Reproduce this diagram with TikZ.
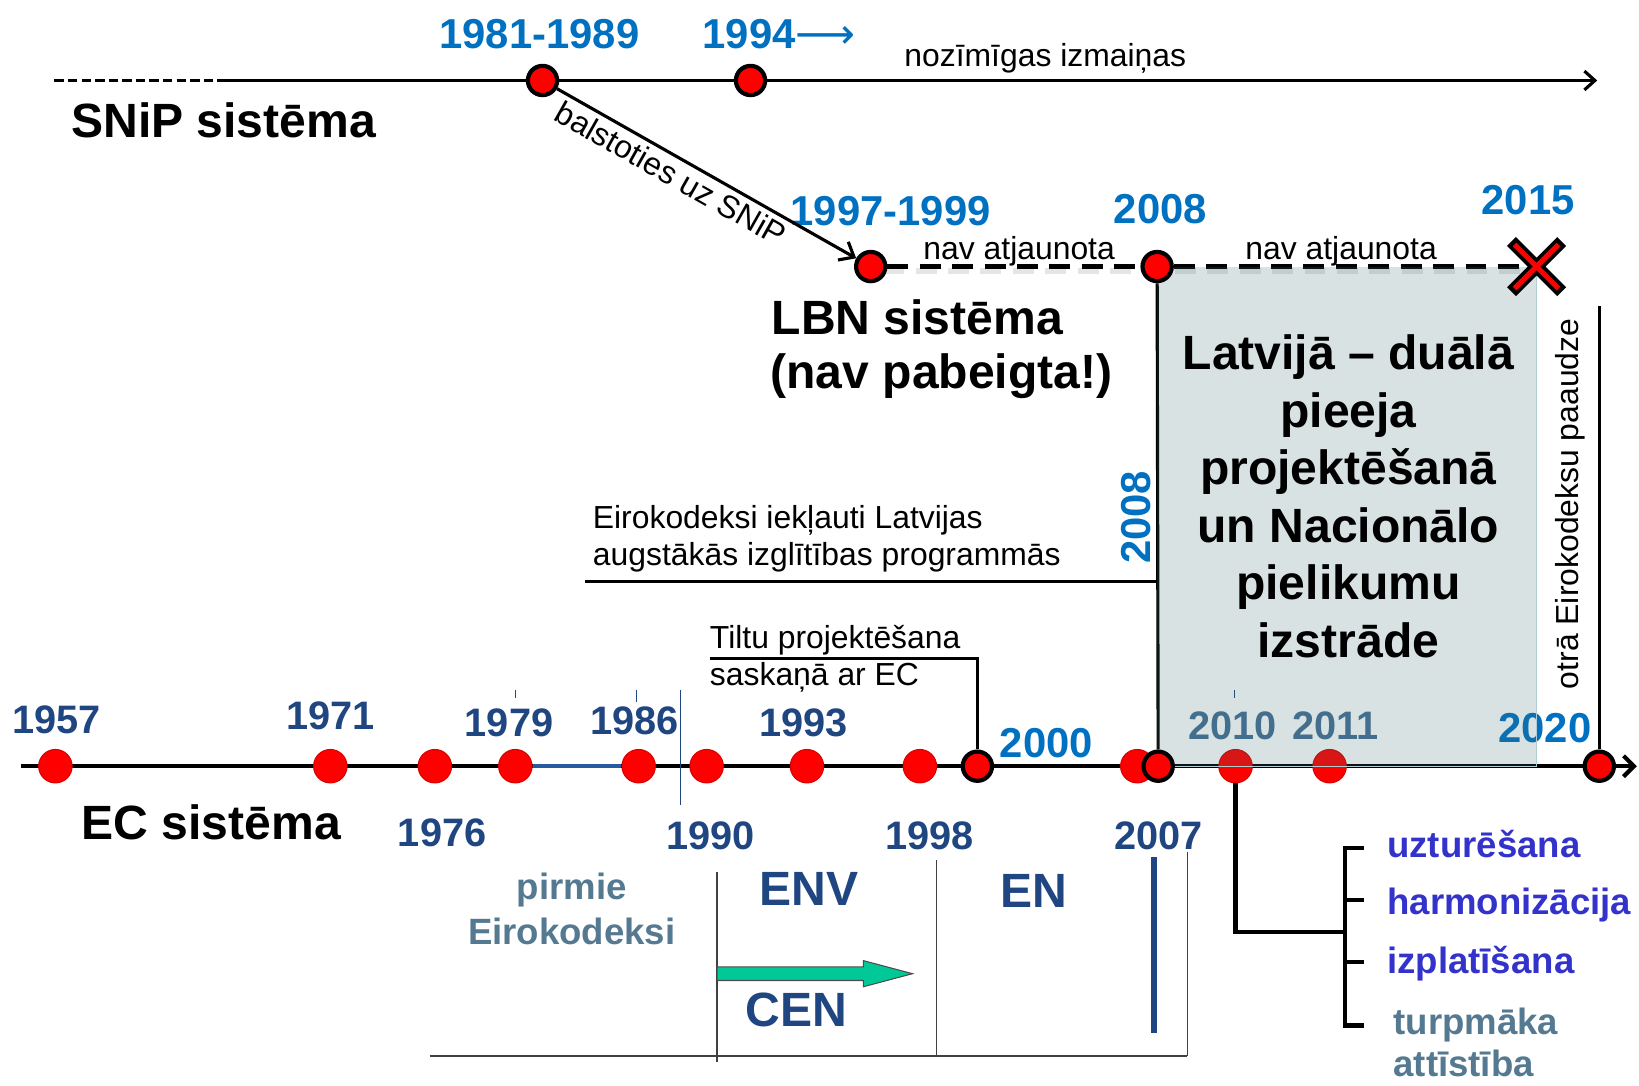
\documentclass[tikz,border=0pt]{standalone}
\usepackage{fontspec}
\setmainfont{Liberation Sans}
\newfontfamily\arrowfont{DejaVu Sans}
\usetikzlibrary{arrows.meta, backgrounds, positioning}

\definecolor{yearblue}{RGB}{0,112,192}
\definecolor{ecblue}{RGB}{32,70,130}
\definecolor{fadeblue}{RGB}{70,110,150}
\definecolor{greyblue}{RGB}{84,121,145}
\definecolor{violetblue}{RGB}{51,51,204}
\definecolor{boxshade}{RGB}{60,110,110}
\definecolor{boxedge}{RGB}{175,205,210}
\definecolor{arrowgreen}{RGB}{0,200,150}
\definecolor{segblue}{RGB}{40,90,160}

\begin{document}
\begin{tikzpicture}[x=1pt, y=-1pt]

  \tikzstyle{year} = [font=\fontsize{40}{44}\selectfont\bfseries, text=yearblue, inner sep=0pt, anchor=base];
  \tikzstyle{ecyear} = [font=\fontsize{38}{42}\selectfont\bfseries, text=ecblue, inner sep=0pt, anchor=base];
  \tikzstyle{heading} = [font=\fontsize{46}{52}\selectfont\bfseries, inner sep=0pt, anchor=base west];
  \tikzstyle{note} = [font=\fontsize{30.5}{36}\selectfont, inner sep=0pt, anchor=base west];
  \tikzstyle{task} = [font=\fontsize{35}{42}\selectfont\bfseries, text=violetblue, inner sep=0pt, anchor=base west];
  \tikzstyle{event} = [circle, fill=red, draw=black, line width=4pt, minimum size=28pt, inner sep=0pt];
  \tikzstyle{ecevent} = [circle, fill=red, draw=red!85!black, line width=1pt, minimum size=32pt, inner sep=0pt];
  \tikzstyle{tableline} = [black!75, line width=1.5pt];

  \useasboundingbox (0,0) rectangle (1568,1038);

  % EC timeline
  \node [ecevent] (n1957) at (53,733)   {};
  \node [ecevent] (n1971) at (316,733)  {};
  \node [ecevent] (n1976) at (416,733)  {};
  \node [ecevent] (n1979) at (493,733)  {};
  \node [ecevent] (n1986) at (611,733)  {};
  \node [ecevent] (n1990) at (676,733)  {};
  \node [ecevent] (n1993) at (772,733)  {};
  \node [ecevent] (n1998) at (880,733)  {};
  \node [ecevent] (n2007) at (1088,733) {};
  \node [ecevent] (n2010) at (1182,733) {};
  \node [ecevent] (n2011) at (1272,733) {};

  \node [ecyear] (l1957) at (54,702)   {1957};
  \node [ecyear] (l1971) at (316,698)  {1971};
  \node [ecyear] (l1979) at (487,705)  {1979};
  \node [ecyear] (l1986) at (607,703)  {1986};
  \node [ecyear] (l1993) at (769,705)  {1993};
  \node [ecyear] (l1976) at (423,810)  {1976};
  \node [ecyear] (l1990) at (680,813)  {1990};
  \node [ecyear] (l1998) at (889,813)  {1998};
  \node [ecyear] (l2007) at (1108,813) {2007};
  \node [ecyear, text=fadeblue] (l2010) at (1179,707) {2010};
  \node [ecyear, text=fadeblue] (l2011) at (1278,707) {2011};
  \node [year] (l2000) at (1001,725) {2000};
  \node [year] (l2020) at (1478,710) {2020};

  \node [heading] (ec) at (78,803) {EC sistēma};

  % dual approach box
  \fill [boxshade, fill opacity=0.2] (1107,255) rectangle (1470,733);
  \draw [boxedge, line width=1pt] (1470,262) -- (1470,733) -- (1112,733);
  \node [font=\fontsize{46}{55}\selectfont\bfseries, align=center, inner sep=0pt] (dual) at (1290,475)
    {Latvijā – duālā\\pieeja\\projektēšanā\\un Nacionālo\\pielikumu\\izstrāde};

  % SNiP timeline
  \node [event] (n1981) at (519,77) {};
  \node [event] (n1994) at (718,77) {};
  \node [year] (l1981) at (516,46) {1981-1989};
  \node [year, anchor=base west] (l1994) at (672,46) {1994{\arrowfont\mdseries ⟶}};
  \node [note] (changes) at (865,64) {nozīmīgas izmaiņas};
  \node [heading] (snip) at (68,132) {SNiP sistēma};

  \coordinate (snipdash)  at (52,77);
  \coordinate (snipsolid) at (212,77);
  \coordinate (snipend)   at (1528,77);

  % LBN timeline
  \node [event] (n1997) at (833,255) {};
  \node [event] (n2008) at (1107,255) {};
  \coordinate (xmark) at (1470,255);
  \node [year] (l1997) at (852,216) {1997-1999};
  \node [year] (l2008) at (1110,214) {2008};
  \node [year] (l2015) at (1462,205) {2015};
  \node [note, anchor=base] (stale1) at (975,248)  {nav atjaunota};
  \node [note, anchor=base] (stale2) at (1283,248) {nav atjaunota};
  \node [heading] (lbn) at (738,320) {LBN sistēma};
  \node [heading] (lbnnote) at (737,372) {(nav pabeigta!)};

  \draw [line width=12pt, shift={(xmark)}] (-24,-24) -- (24,24) (-24,24) -- (24,-24);
  \draw [red, line width=5pt, shift={(xmark)}] (-21,-21) -- (21,21) (-21,21) -- (21,-21);

  % EC events with outline
  \node [event] (n2000) at (935,733) {};
  \node [event] (n2008ec) at (1108,733) {};
  \node [event] (n2020) at (1530,733) {};

  \node [year, rotate=90, anchor=center] (l2008v) at (1087,495) {2008};
  \node [note, rotate=90, anchor=center] (second) at (1502,482) {otrā Eirokodeksu paaudze};
  \coordinate (gentop) at (1530,293);

  \node [note] (eiro1) at (567,506) {Eirokodeksi iekļauti Latvijas};
  \node [note] (eiro2) at (567,541) {augstākās izglītības programmās};
  \coordinate (eirostart) at (560,556);
  \coordinate (eiroend)   at (1107,556);

  \node [note] (bridge1) at (679,620) {Tiltu projektēšana};
  \node [note] (bridge2) at (679,656) {saskaņā ar EC};
  \coordinate (bridgestart) at (679,630);

  \coordinate (ecstart) at (20,733);
  \coordinate (ecend)   at (1566,733);

  \begin{pgfonlayer}{background}
    \draw [line width=3pt, dash pattern=on 9pt off 4pt] (snipdash) -- (snipsolid);
    \draw [line width=3pt, -{Straight Barb[length=10pt, width=18pt]}] (snipsolid) -- (snipend);
    \draw [black!10, line width=6pt, dash pattern=on 20pt off 11pt] (845,259) -- (1455,259);
    \draw [line width=4.5pt, dash pattern=on 20pt off 11pt] (n1997) -- (n2008) -- (xmark);
    \draw [line width=4pt, -{Straight Barb[length=10pt, width=20pt]}] (ecstart) -- (ecend);
    \draw [segblue, line width=4pt] (n1979) -- (n1986);
    \draw [line width=3pt] (n2008) -- (n2008ec);
    \draw [line width=3pt] (eirostart) -- (eiroend);
    \draw [line width=2.5pt] (bridgestart) -| (n2000);
    \draw [line width=3pt] (gentop) -- (n2020);
    \draw [ecblue, line width=1.2pt] (651,660) -- (651,770);
    \draw [ecblue, line width=1.2pt] (493,660) -- (493,668) (609,660) -- (609,672) (1181,660) -- (1181,668);
  \end{pgfonlayer}

  \draw [line width=3pt, -{Straight Barb[length=12pt, width=20pt]}] (n1981) -- (n1997)
    node [note, anchor=center, sloped, below, inner sep=4pt, pos=0.41] {balstoties uz SNiP};

  % standards table
  \draw [tableline] (411,1010) -- (1136,1010);
  \draw [tableline] (686,834) -- (686,1016);
  \draw [tableline] (896,823) -- (896,1010);
  \draw [tableline] (1136,815) -- (1136,1010);
  \draw [ecblue, line width=5pt] (1104,820) -- (1104,988);

  \node [task, text=greyblue, anchor=base] (first1) at (547,861) {pirmie};
  \node [task, text=greyblue, anchor=base] (first2) at (547,904) {Eirokodeksi};
  \node [heading, text=ecblue, anchor=base] (env) at (774,866) {ENV};
  \node [heading, text=ecblue] (en) at (957,868) {EN};
  \node [heading, text=ecblue, anchor=base] (cen) at (762,982) {CEN};

  \coordinate (cenarrow) at (686,931.5);
  \filldraw [fill=arrowgreen, draw=black!70, line width=1pt, shift={(cenarrow)}]
    (0,-6.5) -- (140,-6.5) -- (140,-12.5) -- (187,0) -- (140,12.5) -- (140,6.5) -- (0,6.5) -- cycle;

  % maintenance bracket
  \coordinate (brtop) at (1287,811);
  \coordinate (brbot) at (1287,981);
  \coordinate (brmid) at (1287,892);
  \draw [line width=4pt] (n2010) |- (brmid);
  \draw [line width=4pt] (1305,811) -- (brtop) -- (brbot) -- (1305,981);
  \draw [line width=4pt] (1287,861) -- (1305,861) (1287,920) -- (1305,920);

  \node [task] (keep)   at (1327,820) {uzturēšana};
  \node [task] (harm)   at (1327,875) {harmonizācija};
  \node [task] (spread) at (1327,931) {izplatīšana};
  \node [task, text=greyblue] (dev1) at (1333,990)  {turpmāka};
  \node [task, text=greyblue] (dev2) at (1333,1030) {attīstība};

\end{tikzpicture}
\end{document}
